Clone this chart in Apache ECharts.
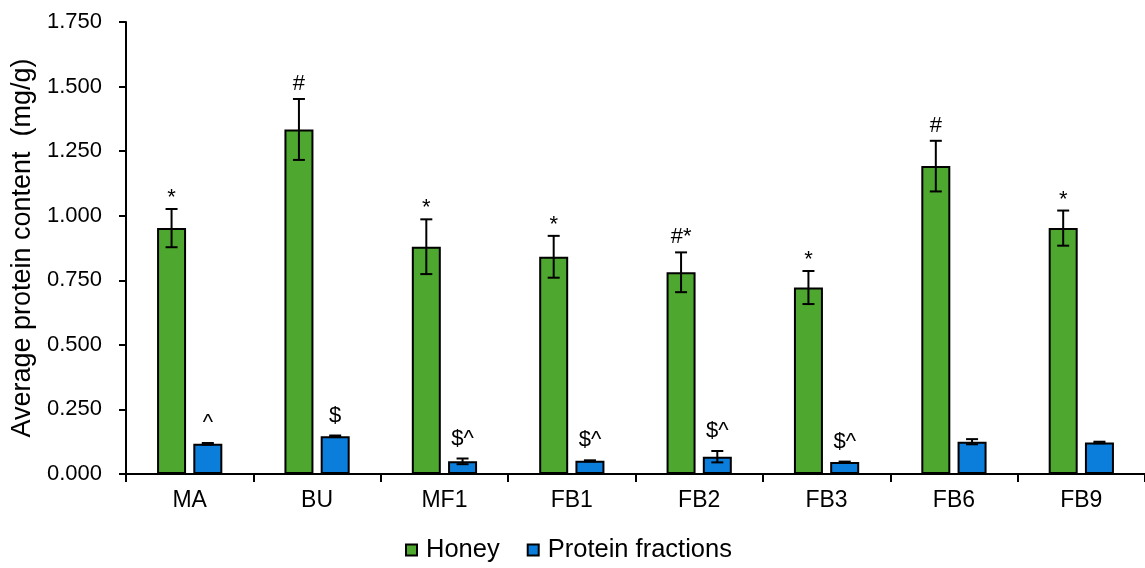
<!DOCTYPE html>
<html>
<head>
<meta charset="utf-8">
<style>
  html, body { margin: 0; padding: 0; background: #fff; }
  #chart { width: 1145px; height: 568px; }
</style>
<script src="https://cdn.jsdelivr.net/npm/echarts@6/dist/echarts.min.js"></script>
</head>
<body>
<div id="chart"></div>
<script>
// Sample groups on the x axis
const categories = ['MA', 'BU', 'MF1', 'FB1', 'FB2', 'FB3', 'FB6', 'FB9'];

// Mean protein content (mg/g) and standard deviations
const honey = [0.952, 1.334, 0.880, 0.841, 0.781, 0.722, 1.192, 0.952];
const honeyErr = [0.074, 0.118, 0.106, 0.081, 0.077, 0.064, 0.098, 0.068];
const protein = [0.117, 0.146, 0.049, 0.051, 0.067, 0.046, 0.125, 0.122];
const proteinErr = [0.003, 0.003, 0.011, 0.002, 0.022, 0.002, 0.010, 0.003];

// Significance markers shown above each bar
const honeyMarks = ['*', '#', '*', '*', '#*', '*', '#', '*'];
const proteinMarks = ['^', '$', '$^', '$^', '$^', '$^', '', ''];

// Y axis ticks
const yMin = 0, yMax = 1.75, yStep = 0.25;

const FONT = '"Liberation Sans", Arial, sans-serif';
const BAR_W = 29;
const BAR_GAP = 0.25;               // fraction of bar width
const HALF_SHIFT = (BAR_W * (1 + BAR_GAP)) / 2;

// Error bars with caps, plus the marker text above the upper cap
function errorSeries(name, values, errs, marks, shift, labelGap) {
  return {
    type: 'custom',
    name: name,
    z: 5,
    silent: true,
    data: values.map((v, i) => [i, v, errs[i]]),
    renderItem: function (params, api) {
      const idx = api.value(0);
      const v = api.value(1);
      const e = api.value(2);
      const mark = marks[idx];
      const top = api.coord([idx, v + e]);
      const bot = api.coord([idx, v - e]);
      const x = top[0] + shift;
      const cap = 6;
      const style = { stroke: '#000', lineWidth: 2 };
      const children = [
        { type: 'line', shape: { x1: x, y1: top[1], x2: x, y2: bot[1] }, style: style },
        { type: 'line', shape: { x1: x - cap, y1: top[1], x2: x + cap, y2: top[1] }, style: style },
        { type: 'line', shape: { x1: x - cap, y1: bot[1], x2: x + cap, y2: bot[1] }, style: style }
      ];
      if (mark) {
        // a lone asterisk sits high in its line box, so bring it down a little
        const gap = mark === '*' ? 11 : labelGap;
        children.push({
          type: 'text',
          style: {
            x: x, y: top[1] - gap,
            text: mark,
            fill: '#000',
            font: '22px ' + FONT,
            align: 'center',
            verticalAlign: 'middle'
          }
        });
      }
      return { type: 'group', children: children };
    }
  };
}

const chart = echarts.init(document.getElementById('chart'), null, { renderer: 'canvas' });

chart.setOption({
  animation: false,
  backgroundColor: '#fff',
  textStyle: { fontFamily: FONT },
  grid: { left: 126, right: 0, top: 22, bottom: 94, containLabel: false },
  legend: {
    data: ['Honey', 'Protein fractions'],
    bottom: 0,
    left: 400,
    icon: 'rect',
    itemWidth: 11,
    itemHeight: 11,
    itemGap: 27,
    textStyle: { fontSize: 25.5, color: '#000', fontFamily: FONT, padding: [0, 0, 0, 4] },
    itemStyle: { borderColor: '#000', borderWidth: 2 }
  },
  xAxis: {
    type: 'category',
    data: categories,
    boundaryGap: true,
    axisLine: { lineStyle: { color: '#000', width: 2 } },
    axisTick: { show: true, length: 8, lineStyle: { color: '#000', width: 2 } },
    axisLabel: { color: '#000', fontSize: 23, fontFamily: FONT, margin: 15 },
    splitLine: { show: false }
  },
  yAxis: {
    type: 'value',
    min: yMin,
    max: yMax,
    interval: yStep,
    name: 'Average protein content  (mg/g)',
    nameLocation: 'middle',
    nameGap: 85,
    nameTextStyle: { color: '#000', fontSize: 27, fontFamily: FONT },
    axisLine: { show: true, lineStyle: { color: '#000', width: 2 } },
    axisTick: { show: true, length: 7, lineStyle: { color: '#000', width: 2 } },
    axisLabel: {
      color: '#000', fontSize: 22, fontFamily: FONT, margin: 24,
      formatter: v => v.toFixed(3)
    },
    splitLine: { show: false }
  },
  series: [
    {
      type: 'bar',
      name: 'Honey',
      data: honey,
      barWidth: BAR_W,
      barGap: (BAR_GAP * 100) + '%',
      itemStyle: { color: '#4EA72E', borderColor: '#000', borderWidth: 2 }
    },
    {
      type: 'bar',
      name: 'Protein fractions',
      data: protein,
      barWidth: BAR_W,
      barGap: (BAR_GAP * 100) + '%',
      itemStyle: { color: '#0B7EDC', borderColor: '#000', borderWidth: 2 }
    },
    errorSeries('honeyErr', honey, honeyErr, honeyMarks, -HALF_SHIFT, 15),
    errorSeries('proteinErr', protein, proteinErr, proteinMarks, HALF_SHIFT, 20)
  ]
});
</script>
</body>
</html>
